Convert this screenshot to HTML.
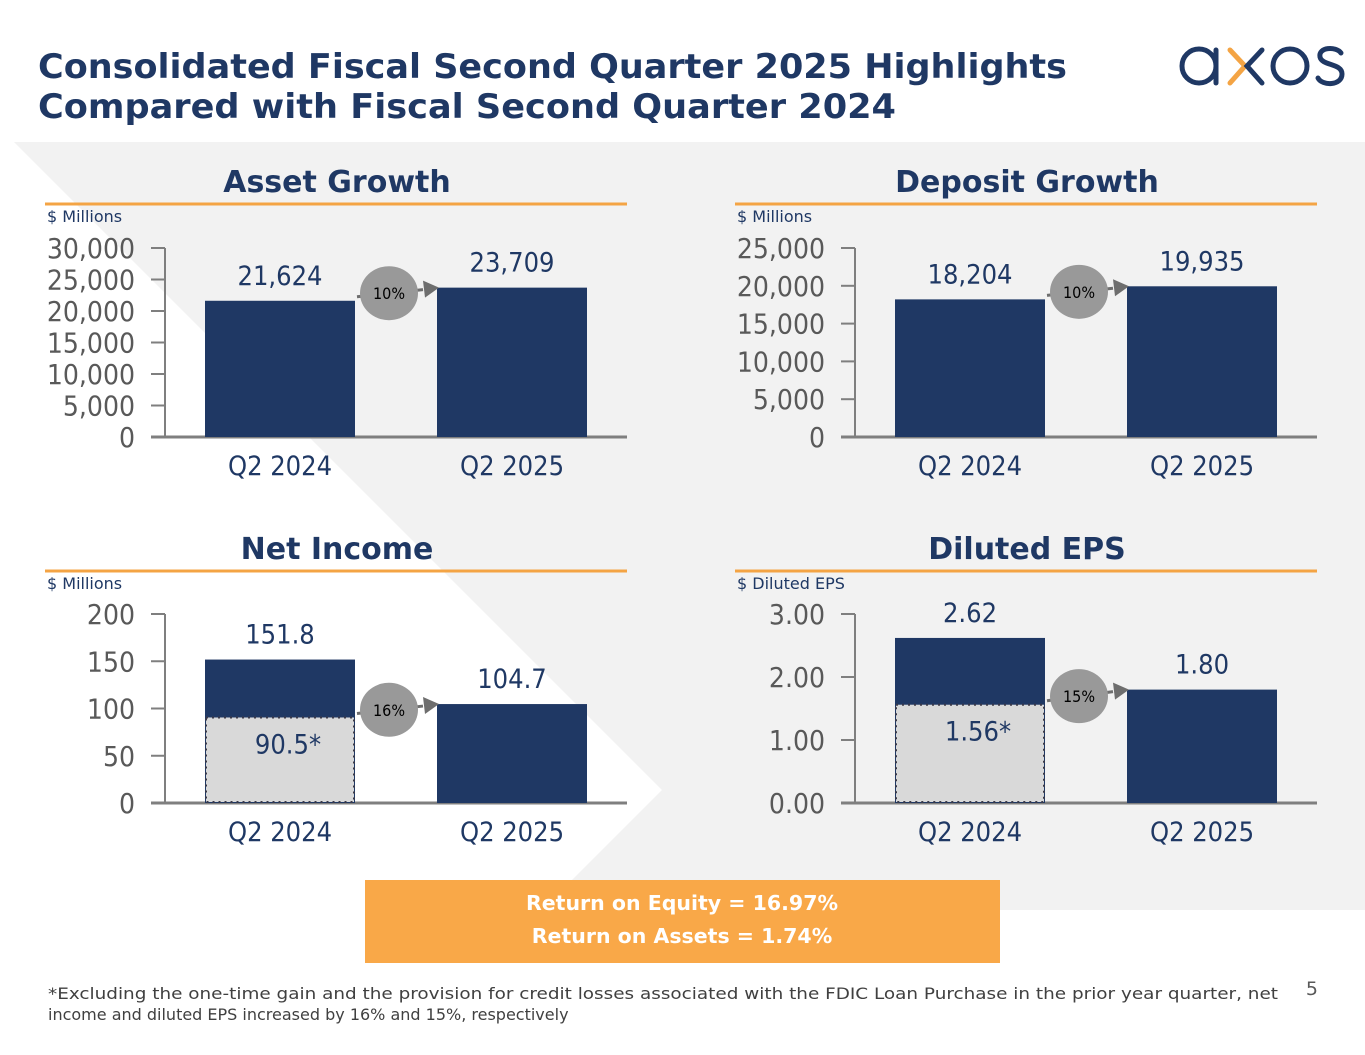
<!DOCTYPE html>
<html><head><meta charset="utf-8">
<style>
html,body{margin:0;padding:0;background:#fff;}
body{width:1365px;height:1055px;position:relative;overflow:hidden;font-family:"DejaVu Sans","Liberation Sans",sans-serif;}
svg{position:absolute;left:0;top:0;}
</style></head>
<body>
<svg id="s" width="1365" height="1055" viewBox="0 0 1365 1055">
  <polygon points="14,142 1365,142 1365,910 542,910 662,790" fill="#f2f2f2"/>
  <text x="38" y="78" font-family="DejaVu Sans" font-weight="bold" font-size="34" fill="#1f3864" textLength="1029" lengthAdjust="spacingAndGlyphs">Consolidated Fiscal Second Quarter 2025 Highlights</text>
  <text x="38" y="118" font-family="DejaVu Sans" font-weight="bold" font-size="34" fill="#1f3864" textLength="858" lengthAdjust="spacingAndGlyphs">Compared with Fiscal Second Quarter 2024</text>
  <g fill="none" stroke-width="5" stroke-linecap="round">
    <circle cx="1199" cy="66" r="17" stroke="#1f3864"/>
    <line x1="1216" y1="50" x2="1216" y2="83" stroke="#1f3864"/>
    <polyline points="1230,50 1245,66 1230,83" stroke="#f4a444"/>
    <polyline points="1262,50 1247,66 1262,83" stroke="#1f3864"/>
    <circle cx="1290" cy="66" r="17" stroke="#1f3864"/>
    <path d="M1341,53 C1336,46 1318,47 1320,57 C1322,66 1342,63 1342,74 C1342,86 1322,86 1318,78" stroke="#1f3864"/>
  </g>
  <rect x="365" y="880" width="635" height="83" fill="#f9a848"/>
  <text x="682" y="910" text-anchor="middle" font-weight="bold" font-size="20.5" fill="#fff">Return on Equity = 16.97%</text>
  <text x="682" y="943" text-anchor="middle" font-weight="bold" font-size="20.5" fill="#fff">Return on Assets = 1.74%</text>
  <text x="1318" y="995" text-anchor="end" font-size="19" fill="#595959">5</text>
  <text x="48" y="999" font-size="16" fill="#404040" textLength="1230" lengthAdjust="spacingAndGlyphs">*Excluding the one-time gain and the provision for credit losses associated with the FDIC Loan Purchase in the prior year quarter, net</text>
  <text x="48" y="1020" font-size="16" fill="#404040">income and diluted EPS increased by 16% and 15%, respectively</text>
</svg>
<script>
const categories = ["Q2 2024","Q2 2025"];
const assetValues = [21624, 23709];
const assetLabels = ["21,624","23,709"];
const assetTicks = [0,5000,10000,15000,20000,25000,30000];
const assetTickLabels = ["0","5,000","10,000","15,000","20,000","25,000","30,000"];
const depositValues = [18204, 19935];
const depositLabels = ["18,204","19,935"];
const depositTicks = [0,5000,10000,15000,20000,25000];
const depositTickLabels = ["0","5,000","10,000","15,000","20,000","25,000"];
const incomeValues = [151.8, 104.7];
const incomeLabels = ["151.8","104.7"];
const incomeAdjusted = 90.5;
const incomeTicks = [0,50,100,150,200];
const incomeTickLabels = ["0","50","100","150","200"];
const epsValues = [2.62, 1.80];
const epsLabels = ["2.62","1.80"];
const epsAdjusted = 1.56;
const epsTicks = [0,1,2,3];
const epsTickLabels = ["0.00","1.00","2.00","3.00"];
const growthLabels = ["10%","10%","16%","15%"];

const NS = "http://www.w3.org/2000/svg";
const svg = document.getElementById('s');
function el(tag, attrs, parent){
  const e = document.createElementNS(NS, tag);
  for (const k in attrs) e.setAttribute(k, attrs[k]);
  (parent||svg).appendChild(e);
  return e;
}
const TF = '"DejaVu Sans Condensed","DejaVu Sans",sans-serif';
function chart(o){
  const g = el('g', {});
  
  
  const t = el('text', {x:o.cx, y:o.top+46, 'text-anchor':'middle','font-weight':'bold','font-size':30,fill:'#1f3864'}, g);
  t.textContent = o.title;
  
  
  const ln = el('line', {x1:o.x0-120, x2:o.x1, y1:o.top+58, y2:o.top+58, stroke:'#f4a444','stroke-width':3}, g);
  
  
  const u = el('text', {x:o.x0-118, y:o.top+76, 'font-size':16, fill:'#1f3864'}, g);
  u.textContent = o.unit;
  
  
  const max = o.ticks[o.ticks.length-1];
  const yS = v => o.base - (v/max)*(o.base - o.ytop);
  const bx = i => o.x0 + 40 + i*232;
  const bw = 150;
  const ax = el('line', {x1:o.x0, x2:o.x0, y1:o.ytop, y2:o.base, stroke:'#7f7f7f','stroke-width':2}, g);
  
  
  const xa = el('line', {x1:o.x0-14, x2:o.x1, y1:o.base, y2:o.base, stroke:'#7f7f7f','stroke-width':3}, g);
  
  
  o.ticks.forEach((v,i)=>{
    const tk = el('line', {x1:o.x0-14, x2:o.x0, y1:yS(v), y2:yS(v), stroke:'#7f7f7f','stroke-width':2}, g);
    
    
    const tl = el('text', {x:o.x0-30, y:yS(v)+10, 'text-anchor':'end','font-size':28, fill:'#595959','font-family':TF}, g);
    tl.textContent = o.tickLabels[i];
    
    
  });
  o.values.forEach((v,i)=>{
    const r = el('rect', {x:bx(i), y:yS(v), width:bw, height:o.base-yS(v), fill:'#1f3864'}, g);
    
    
    const vl = el('text', {x:bx(i)+bw/2, y:yS(v)-16, 'text-anchor':'middle','font-size':27, fill:'#1f3864','font-family':TF}, g);
    vl.textContent = o.labels[i];
    
    
    const cl = el('text', {x:bx(i)+bw/2, y:o.base+38, 'text-anchor':'middle','font-size':27, fill:'#1f3864','font-family':TF}, g);
    cl.textContent = categories[i];
    
    
  });
  if (o.adj !== undefined){
    const ar = el('rect', {x:bx(0)+1, y:yS(o.adj), width:bw-2, height:o.base-yS(o.adj)-1, fill:'#d9d9d9', stroke:'#3a3a4a','stroke-width':2,'stroke-dasharray':'2,4'}, g);
    
    
    const al = el('text', {x:bx(0)+bw/2+8, y:yS(o.adj)+36, 'text-anchor':'middle','font-size':27, fill:'#1f3864','font-family':TF}, g);
    al.textContent = o.adjLabel;
    
    
  }
  const from = o.adj !== undefined ? o.adj : o.values[0];
  const y1 = yS(from) - 10, y2 = yS(o.values[1]);
  const cxp = bx(0)+bw+34, cyp = (y1+y2)/2 + 4;
  const ar = el('path', {d:`M${bx(0)+bw+2},${y1+6} L${bx(1)-14},${y2+2}`, stroke:'#6e6e6e','stroke-width':3, fill:'none'}, g);
  
  
  const ah = el('polygon', {points:`${bx(1)+2},${y2} ${bx(1)-14},${y2-7} ${bx(1)-12},${y2+10}`, fill:'#6e6e6e'}, g);
  
  
  const c = el('ellipse', {cx:cxp, cy:cyp, rx:29, ry:27, fill:'#999999'}, g);
  
  
  const ct = el('text', {x:cxp, y:cyp+6, 'text-anchor':'middle','font-size':16, fill:'#000','font-family':TF}, g);
  ct.textContent = o.growth;
  
  
}
chart({name:'asset-growth-chart', title:'Asset Growth', unit:'$ Millions', cx:337, top:146, x0:165, x1:627, ytop:248, base:437, values:assetValues, labels:assetLabels, ticks:assetTicks, tickLabels:assetTickLabels, growth:growthLabels[0]});
chart({name:'deposit-growth-chart', title:'Deposit Growth', unit:'$ Millions', cx:1027, top:146, x0:855, x1:1317, ytop:248, base:437, values:depositValues, labels:depositLabels, ticks:depositTicks, tickLabels:depositTickLabels, growth:growthLabels[1]});
chart({name:'net-income-chart', title:'Net Income', unit:'$ Millions', cx:337, top:513, x0:165, x1:627, ytop:614, base:803, values:incomeValues, labels:incomeLabels, ticks:incomeTicks, tickLabels:incomeTickLabels, adj:incomeAdjusted, adjLabel:'90.5*', growth:growthLabels[2]});
chart({name:'diluted-eps-chart', title:'Diluted EPS', unit:'$ Diluted EPS', cx:1027, top:513, x0:855, x1:1317, ytop:614, base:803, values:epsValues, labels:epsLabels, ticks:epsTicks, tickLabels:epsTickLabels, adj:epsAdjusted, adjLabel:'1.56*', growth:growthLabels[3]});
</script>
</body></html>
